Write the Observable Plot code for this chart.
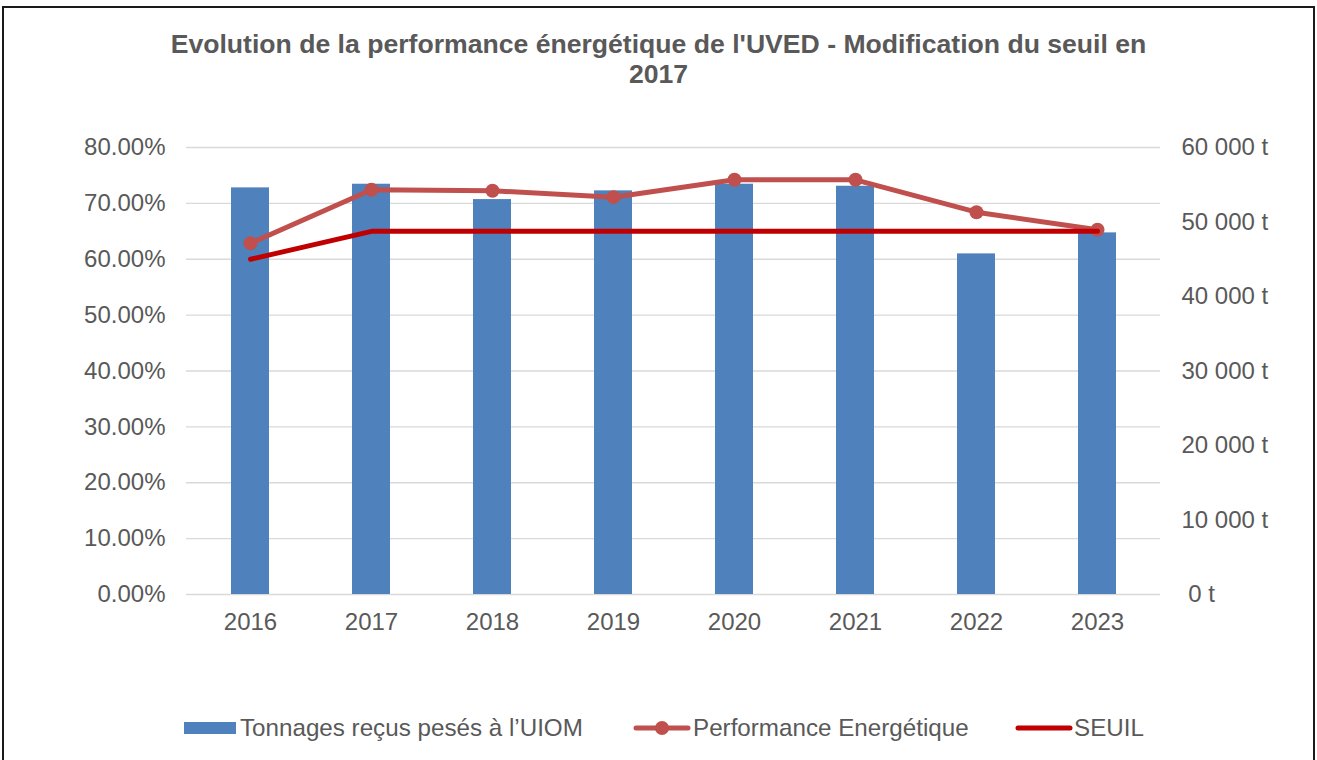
<!DOCTYPE html>
<html>
<head>
<meta charset="utf-8">
<script src="https://cdn.jsdelivr.net/npm/d3@7"></script>
<script src="https://cdn.jsdelivr.net/npm/@observablehq/plot@0.6"></script>
<style>
  body { margin: 0; background: #fff; font-family: "Liberation Sans", Arial, sans-serif; }
  #frame { position: absolute; left: 2px; top: 6px; width: 1309px; height: 760px;
           border: 2px solid #1a1a1a; border-bottom: none; background: #fff; overflow: hidden; }
  #title { height: 92px; box-sizing: border-box; padding-top: 21px; text-align: center;
           font-weight: bold; font-size: 26.6px; line-height: 30px; color: #595959; }
  #legend { position: relative; height: 120px; font-size: 24.2px; color: #595959; }
  .item { position: absolute; top: 0; height: 26px; line-height: 26px; white-space: nowrap; }
  .item svg { position: absolute; left: 0; top: 0; }
  .item span { position: absolute; top: 0; }
</style>
</head>
<body>
<div id="frame">
  <div id="title">Evolution de la performance énergétique de l'UVED - Modification du seuil en<br>2017</div>
  <div id="chart"></div>
  <div id="legend"></div>
</div>
<script>
const years = ["2016", "2017", "2018", "2019", "2020", "2021", "2022", "2023"];
const tonnages = [54580, 55070, 53010, 54180, 55070, 54800, 45720, 48540];
const performance = [62.87, 72.43, 72.25, 71.11, 74.22, 74.22, 68.42, 65.27];
const seuil = [60, 65, 65, 65, 65, 65, 65, 65];
const percentTicks = [0, 10, 20, 30, 40, 50, 60, 70, 80];
const tonnageTicks = [0, 10000, 20000, 30000, 40000, 50000, 60000];
const seriesNames = ["Tonnages reçus pesés à l’UIOM", "Performance Energétique", "SEUIL"];

const colBar = "#4f81bd", colPerf = "#c0504d", colSeuil = "#c00000";
const tMax = 60000, pMax = 80;
const toY = t => t * pMax / tMax;

const rows = years.map((year, i) => ({
  year, tonnage: tonnages[i], perf: performance[i], seuil: seuil[i]
}));

const fmtT = v => {
  const t = Math.round(v * tMax / pMax);
  return t === 0 ? "\u00a00 t" : d3.format(",")(t).replace(/,/g, " ") + " t";
};

const chart = Plot.plot({
  width: 1309,
  height: 554,
  marginTop: 47,
  marginBottom: 60,
  marginLeft: 182,
  marginRight: 153,
  style: { fontFamily: "'Liberation Sans', Arial, sans-serif", fontSize: "24px", color: "#595959", background: "white" },
  x: { type: "band", domain: years, paddingInner: 0.69, paddingOuter: 0.345, label: null },
  y: { domain: [0, pMax], label: null },
  marks: [
    Plot.gridY(percentTicks, { stroke: "#d9d9d9", strokeOpacity: 1, strokeWidth: 1.3 }),
    Plot.axisY(percentTicks, { anchor: "left", tickSize: 0, tickPadding: 21, tickFormat: d => d.toFixed(2) + "%", label: null }),
    Plot.axisY(tonnageTicks.map(toY), { anchor: "right", tickSize: 0, tickPadding: 21, tickFormat: fmtT, label: null }),
    Plot.axisX({ tickSize: 0, tickPadding: 18, label: null }),
    Plot.barY(rows, { x: "year", y: d => toY(d.tonnage), fill: colBar }),
    Plot.lineY(rows, { x: "year", y: "perf", stroke: colPerf, strokeWidth: 5, strokeLinecap: "round", strokeLinejoin: "round" }),
    Plot.dot(rows, { x: "year", y: "perf", r: 7, fill: colPerf }),
    Plot.lineY(rows, { x: "year", y: "seuil", stroke: colSeuil, strokeWidth: 5, strokeLinecap: "round", strokeLinejoin: "round" })
  ]
});
document.getElementById("chart").appendChild(chart);

// Legend (page x minus 4 for frame offset)
const legend = d3.select("#legend");
const legendTop = 61;
const items = [
  { x: 180, name: seriesNames[0], kind: "bar", textX: 56 },
  { x: 629, name: seriesNames[1], kind: "perf", textX: 60 },
  { x: 1011, name: seriesNames[2], kind: "seuil", textX: 59 }
];
items.forEach(it => {
  const div = legend.append("div").attr("class", "item").style("left", it.x + "px").style("top", legendTop + "px");
  const svg = div.append("svg").attr("width", 60).attr("height", 26);
  if (it.kind === "bar") {
    svg.append("rect").attr("x", 0).attr("y", 7).attr("width", 52).attr("height", 12).attr("fill", colBar);
  } else if (it.kind === "perf") {
    svg.append("line").attr("x1", 3).attr("x2", 55).attr("y1", 13).attr("y2", 13)
      .attr("stroke", colPerf).attr("stroke-width", 5).attr("stroke-linecap", "round");
    svg.append("circle").attr("cx", 29).attr("cy", 13).attr("r", 7).attr("fill", colPerf);
  } else {
    svg.append("line").attr("x1", 3).attr("x2", 55).attr("y1", 13).attr("y2", 13)
      .attr("stroke", colSeuil).attr("stroke-width", 5).attr("stroke-linecap", "round");
  }
  div.append("span").style("left", it.textX + "px").text(it.name);
});
</script>
</body>
</html>
